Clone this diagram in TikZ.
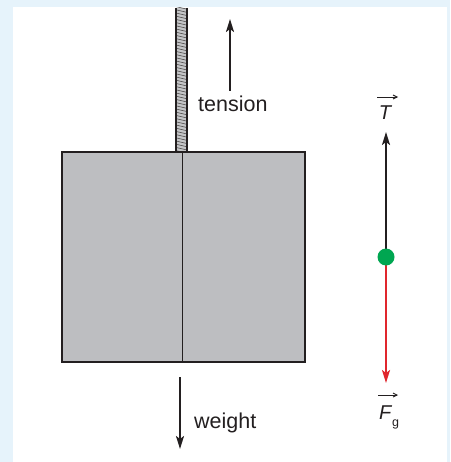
\documentclass[tikz,border=0pt]{standalone}
\usepackage{fontspec}
\setmainfont{Liberation Sans}
\usetikzlibrary{arrows.meta}
\definecolor{bgblue}{HTML}{E6F3FB}
\definecolor{boxgray}{HTML}{BDBEC1}
\definecolor{ink}{HTML}{231F20}
\definecolor{dotgreen}{HTML}{00A651}
\definecolor{vecred}{HTML}{E0262D}
\definecolor{ropegray}{HTML}{C4C5C7}
\tikzset{
  forcearrow/.style={line width=2pt, draw=ink, -{Stealth[length=13pt,width=8pt,inset=3pt]}},
  lbl/.style={font=\fontsize{21.5}{24}\selectfont, text=ink, inner sep=0pt},
  veclbl/.style={font=\fontsize{20}{22}\selectfont\itshape, text=ink, inner sep=0pt},
  overarr/.style={line width=0.9pt, draw=ink, -{Straight Barb[length=4pt,width=4pt]}},
  block/.style={draw=ink, line width=1.3pt, fill=boxgray, minimum width=243pt, minimum height=210pt, inner sep=0pt}
}
\begin{document}
\begin{tikzpicture}[x=1pt,y=-1pt]
\useasboundingbox (0,0) rectangle (450,462);
\fill[bgblue] (0,0) rectangle (450,462);
\fill[white] (13,7) rectangle (447,462);
% rope
\begin{scope}
\clip (176,8) rectangle (187,152);
\fill[ropegray] (176,8) rectangle (187,152);
\foreach \y in {0,3.2,...,160} {
  \draw[ink!80, line width=0.6pt] (175,\y) -- (188,\y+3);
}
\end{scope}
\draw[ink, line width=1.1pt] (176,8) -- (176,152);
\draw[ink, line width=1.1pt] (187,8) -- (187,152);
% block
\node[block] (box) at (183.5,257) {};
\coordinate (midtop) at (182,152);
\coordinate (midbot) at (182,362);
\draw[ink, line width=0.9pt] (midtop) -- (midbot);
% tension arrow
\coordinate (tenTail) at (230,91);
\coordinate (tenTip) at (230,19);
\draw[forcearrow] (tenTail) -- (tenTip);
\node[lbl, anchor=base west] (tension) at (198,112) {tension};
% weight arrow
\coordinate (wTail) at (180,377);
\coordinate (wTip) at (180,449);
\draw[forcearrow] (wTail) -- (wTip);
\node[lbl, anchor=base west] (weight) at (194,428) {weight};
% free body
\coordinate (c) at (386,257);
\coordinate (Ttip) at (386,132);
\coordinate (Ftip) at (386,383);
\draw[forcearrow] (c) -- (Ttip);
\draw[forcearrow, draw=vecred, fill=vecred] (c) -- (Ftip);
\node[circle, fill=dotgreen, minimum size=17pt, inner sep=0pt] (dot) at (c) {};
\node[veclbl, anchor=base] (T) at (385,120) {T};
\coordinate (Ta) at (377,97);
\coordinate (Tb) at (398,97);
\draw[overarr] (Ta) -- (Tb);
\node[veclbl, anchor=base west] (F) at (379,419) {F};
\node[lbl, font=\fontsize{12.5}{14}\selectfont, anchor=base west] (g) at (392,426) {g};
\coordinate (Fa) at (378,395);
\coordinate (Fb) at (398,395);
\draw[overarr] (Fa) -- (Fb);
\end{tikzpicture}
\end{document}
